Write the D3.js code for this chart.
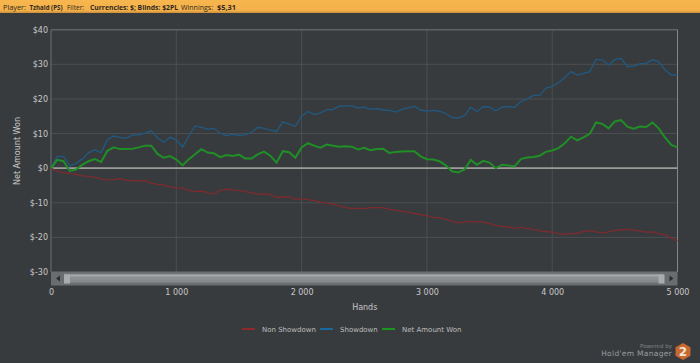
<!DOCTYPE html>
<html>
<head>
<meta charset="utf-8">
<title>Winnings graph</title>
<script src="https://d3js.org/d3.v7.min.js"></script>
<style>
    html, body { margin: 0; padding: 0; background: #383b3e; overflow: hidden; }
    svg { display: block; }
</style>
</head>
<body>
<script>
var handsStep = 50;

var nonShowdown = [0, -0.9, -1.3, -1.5, -1.8, -2.2, -2.4, -2.6, -3.2, -3.4, -3.3, -3.0, -3.5, -3.6, -3.7, -3.6, -4.3,
    -4.7, -4.8, -5.4, -5.7, -5.8, -6.4, -6.8, -6.6, -7.1, -7.4, -6.4, -6.1, -6.3, -6.4, -6.8, -7.1, -7.6, -7.4, -7.6,
    -8.4, -8.4, -8.2, -9.0, -8.9, -9.1, -9.4, -9.8, -10.1, -10.4, -10.8, -11.4, -11.6, -11.6, -11.7, -11.4, -11.4,
    -11.4, -11.9, -12.1, -12.5, -12.7, -13.1, -13.4, -13.7, -14.2, -14.3, -14.8, -15.3, -15.8, -15.6, -15.4, -15.5,
    -15.6, -16.0, -16.5, -16.8, -17.0, -17.4, -17.1, -17.5, -17.7, -18.1, -18.3, -18.5, -18.9, -19.1, -18.9, -18.8,
    -18.3, -18.1, -18.4, -18.7, -18.4, -18.0, -17.8, -17.7, -17.9, -18.2, -18.5, -18.4, -18.9, -19.2, -20.3, -21.0];

var showdown = [0.2, 3.4, 3.4, 0.7, 1.4, 2.6, 4.5, 5.3, 4.5, 8.2, 9.3, 8.9, 8.6, 9.6, 9.6, 10.1, 10.8, 8.7, 7.5, 8.9,
    8.2, 6.1, 9.3, 12.2, 11.8, 11.3, 11.5, 10.1, 9.4, 9.8, 9.5, 9.6, 10.3, 11.8, 11.5, 11.0, 10.6, 13.4, 12.7, 12.1,
    15.0, 16.4, 15.5, 16.0, 16.9, 16.9, 17.9, 18.0, 18.0, 17.4, 17.6, 17.0, 17.2, 16.8, 16.7, 16.2, 17.0, 17.4, 17.9,
    16.8, 16.5, 16.7, 16.5, 15.8, 14.7, 14.5, 15.2, 17.6, 16.3, 17.8, 17.6, 16.6, 17.6, 17.8, 17.6, 19.2, 20.0, 21.0,
    21.0, 23.1, 23.6, 24.7, 26.2, 27.9, 26.9, 27.4, 27.9, 31.4, 31.3, 29.8, 31.4, 31.7, 29.3, 29.5, 30.1, 30.3, 31.3,
    30.8, 28.4, 26.9, 27.0];

var netWon = [0, 2.4, 2.0, -0.8, -0.4, 1.0, 2.0, 2.6, 1.8, 5.0, 6.0, 5.5, 5.5, 5.6, 6.0, 6.5, 6.5, 4.1, 3.0, 3.5, 2.5,
    0.8, 2.6, 4.0, 5.5, 4.5, 4.3, 3.2, 3.8, 3.5, 3.9, 2.8, 2.8, 4.0, 4.8, 3.6, 1.6, 4.9, 4.6, 3.0, 6.0, 7.2, 6.5, 5.9,
    6.8, 6.5, 6.2, 6.3, 6.2, 5.4, 5.9, 5.2, 5.5, 5.6, 4.4, 4.7, 4.8, 4.9, 4.9, 3.4, 2.6, 2.5, 2.0, 0.8, -0.9, -1.25,
    -0.4, 2.4, 1.0, 2.1, 1.6, 0, 1.0, 0.8, 0.5, 2.6, 3.1, 3.2, 3.6, 4.7, 5.1, 5.8, 7.2, 9.1, 8.0, 8.9, 9.9, 13.2, 12.8,
    11.5, 13.5, 13.9, 12.0, 11.4, 12.0, 11.9, 13.2, 11.5, 8.9, 6.7, 6.0];

var seriesNames = ["Non Showdown", "Showdown", "Net Amount Won"];
var lineColors = ["#7c2b2f", "#205a82", "#1f8f26"];
var legendColors = ["#8e2a2c", "#1b689c", "#1a951f"];
var xTicks = [0, 1000, 2000, 3000, 4000, 5000];
var yTicks = [-30, -20, -10, 0, 10, 20, 30, 40];
var headerLabels = ["Player:", "Tzhaid (PS)", "Filter:", "Currencies: $; Blinds: $2PL", "Winnings:", "$5,31"];

function init() {

    var w = 700;
    var h = 363;
    var left = 51;
    var right = 677.5;
    var top = 29.7;
    var bottom = 272;

    var xScale = d3.scaleLinear().domain([0, 5000]).range([left, right]);
    var yScale = d3.scaleLinear().domain([-30, 40]).range([bottom, top]);

    var svg = d3.select("body")
        .append("svg")
        .attr("width", w)
        .attr("height", h)
        .attr("font-family", "'DejaVu Sans', sans-serif");

    var defs = svg.append("defs");
    gradient(defs, "barFill", [["0%", "#f7b64f"], ["80%", "#f5b04a"], ["100%", "#c98f3c"]]);
    gradient(defs, "trackFill", [["0%", "#787b7d"], ["20%", "#a8aaab"], ["35%", "#8f9294"], ["85%", "#85888a"], ["100%", "#6a6d6f"]]);

    svg.append("rect")
        .attr("width", w)
        .attr("height", h)
        .attr("fill", "#383b3e");

    header(svg, w);
    grid(svg, xScale, yScale, left, right, top, bottom);

    // Lines, red first so the green one ends up on top
    var allSeries = [nonShowdown, showdown, netWon];
    var line = d3.line()
        .x(function(d, i) { return xScale(i * handsStep); })
        .y(function(d) { return yScale(d); });

    svg.selectAll("path.series")
        .data(allSeries)
        .enter()
        .append("path")
        .attr("class", "series")
        .attr("d", line)
        .attr("fill", "none")
        .attr("stroke", function(d, i) { return lineColors[i]; })
        .attr("stroke-width", function(d, i) { return i == 2 ? 2 : 1.3; });

    scrollbar(svg, left, right, bottom);
    axes(svg, xScale, yScale, bottom, left);
    titles(svg, left, right);
    legend(svg);
    logo(svg);
}

function gradient(defs, id, stops) {
    var g = defs.append("linearGradient")
        .attr("id", id)
        .attr("x1", 0).attr("y1", 0)
        .attr("x2", 0).attr("y2", 1);
    stops.forEach(function(s) {
        g.append("stop").attr("offset", s[0]).attr("stop-color", s[1]);
    });
}

function header(svg, w) {
    // The reference uses a narrower font, so each label is squeezed to its width
    var labelX = [3, 29.5, 67, 90, 181, 217];
    var labelW = [23, 33, 17, 88, 32, 19];

    svg.append("rect")
        .attr("width", w)
        .attr("height", 13)
        .attr("fill", "url(#barFill)");

    svg.selectAll("text.head")
        .data(headerLabels)
        .enter()
        .append("text")
        .attr("class", "head")
        .attr("x", function(d, i) { return labelX[i]; })
        .attr("y", 9.5)
        .attr("textLength", function(d, i) { return labelW[i]; })
        .attr("lengthAdjust", "spacingAndGlyphs")
        .attr("font-size", "7.5px")
        .attr("font-weight", function(d, i) { return i % 2 ? "bold" : "normal"; })
        .attr("font-family", "'Open Sans', sans-serif")
        .attr("fill", "#2e2a22")
        .text(function(d) { return d; });
}

function grid(svg, xScale, yScale, left, right, top, bottom) {
    svg.selectAll("line.gridx")
        .data(xTicks.slice(1, 5))
        .enter()
        .append("line")
        .attr("class", "gridx")
        .attr("x1", function(d) { return xScale(d); })
        .attr("x2", function(d) { return xScale(d); })
        .attr("y1", top)
        .attr("y2", bottom)
        .attr("stroke", "#4c4f51");

    svg.selectAll("line.gridy")
        .data(yTicks.slice(1, 7).filter(function(d) { return d != 0; }))
        .enter()
        .append("line")
        .attr("class", "gridy")
        .attr("x1", left)
        .attr("x2", right)
        .attr("y1", function(d) { return yScale(d); })
        .attr("y2", function(d) { return yScale(d); })
        .attr("stroke", "#4c4f51");

    // Frame
    svg.append("line")
        .attr("x1", left).attr("x2", right)
        .attr("y1", top).attr("y2", top)
        .attr("stroke", "#5f6264").attr("stroke-width", 1.5);
    svg.append("line")
        .attr("x1", left).attr("x2", left)
        .attr("y1", top).attr("y2", bottom)
        .attr("stroke", "#64676a").attr("stroke-width", 1.2);
    svg.append("line")
        .attr("x1", right).attr("x2", right)
        .attr("y1", top).attr("y2", bottom)
        .attr("stroke", "#85888a").attr("stroke-width", 1);

    // Zero line
    svg.append("line")
        .attr("x1", left).attr("x2", right)
        .attr("y1", yScale(0)).attr("y2", yScale(0))
        .attr("stroke", "#9c9c9a").attr("stroke-width", 1.8);
}

function scrollbar(svg, left, right, bottom) {
    var g = svg.append("g");
    var sTop = bottom - 0.5;
    g.append("rect")
        .attr("x", left).attr("y", sTop)
        .attr("width", right - left).attr("height", 14)
        .attr("fill", "#6a6d6f");
    g.append("rect")
        .attr("x", left + 13).attr("y", sTop + 2)
        .attr("width", right - left - 27).attr("height", 10)
        .attr("fill", "url(#trackFill)");
    g.append("rect")
        .attr("x", left + 13).attr("y", sTop + 3)
        .attr("width", 6).attr("height", 9)
        .attr("fill", "#a9abac");
    g.append("rect")
        .attr("x", right - 19).attr("y", sTop + 3)
        .attr("width", 6).attr("height", 9)
        .attr("fill", "#a9abac");
    g.append("path")
        .attr("d", "M" + (left + 5) + "," + (sTop + 7) + "l4,-3v6z")
        .attr("fill", "#2c2e30");
    g.append("path")
        .attr("d", "M" + (right - 4) + "," + (sTop + 7) + "l-4,-3v6z")
        .attr("fill", "#2c2e30");
}

function axes(svg, xScale, yScale, bottom, left) {
    var spaced = d3.formatLocale({ decimal: ".", thousands: " ", grouping: [3], currency: ["$", ""] }).format(",");

    var xAxis = d3.axisBottom(xScale)
        .tickValues(xTicks)
        .tickSize(0)
        .tickPadding(0)
        .tickFormat(spaced);

    var yAxis = d3.axisLeft(yScale)
        .tickValues(yTicks)
        .tickSize(0)
        .tickPadding(3)
        .tickFormat(function(d) { return "$" + d; });

    var xg = svg.append("g")
        .attr("transform", "translate(0," + (bottom + 17) + ")")
        .call(xAxis);

    var yg = svg.append("g")
        .attr("transform", "translate(" + left + ",0)")
        .call(yAxis);

    [xg, yg].forEach(function(g) {
        g.select(".domain").remove();
        g.selectAll("text")
            .attr("fill", "#c8c8c8")
            .attr("font-size", "8px")
            .attr("font-family", "'DejaVu Sans', sans-serif");
    });
}

function titles(svg, left, right) {
    svg.append("text")
        .attr("x", (left + right) / 2 + 0.5)
        .attr("y", 310)
        .attr("text-anchor", "middle")
        .attr("font-size", "8px")
        .attr("fill", "#c8c8c8")
        .text("Hands");

    svg.append("text")
        .attr("transform", "translate(20,151) rotate(-90)")
        .attr("text-anchor", "middle")
        .attr("font-size", "8px")
        .attr("fill", "#c8c8c8")
        .text("Net Amount Won");
}

function legend(svg) {
    var swatchX = [242, 320, 382];

    var item = svg.selectAll("g.legend")
        .data(seriesNames)
        .enter()
        .append("g")
        .attr("class", "legend")
        .attr("transform", function(d, i) { return "translate(" + swatchX[i] + ",329)"; });

    item.append("line")
        .attr("x1", 0)
        .attr("x2", 13)
        .attr("stroke", function(d, i) { return legendColors[i]; })
        .attr("stroke-width", 2);

    item.append("text")
        .attr("x", 20)
        .attr("y", 3)
        .attr("font-size", "7px")
        .attr("fill", "#bdbdbd")
        .text(function(d) { return d; });
}

function logo(svg) {
    svg.append("text")
        .attr("x", 672)
        .attr("y", 347.5)
        .attr("text-anchor", "end")
        .attr("font-size", "5.5px")
        .attr("fill", "#7f8284")
        .text("Powered by");

    svg.append("text")
        .attr("x", 672)
        .attr("y", 355.5)
        .attr("text-anchor", "end")
        .attr("font-size", "7.5px")
        .attr("letter-spacing", "0.3px")
        .attr("fill", "#9a9c9d")
        .text("Hold'em Manager");

    var hex = d3.range(6).map(function(i) {
        var a = Math.PI / 3 * i + Math.PI / 6;
        return [683 + 8.6 * Math.cos(a), 351.5 + 8.6 * Math.sin(a)];
    });

    svg.append("path")
        .attr("d", d3.line()(hex) + "Z")
        .attr("fill", "#c9692f");

    svg.append("text")
        .attr("x", 683)
        .attr("y", 356)
        .attr("text-anchor", "middle")
        .attr("font-size", "12px")
        .attr("font-weight", "bold")
        .attr("fill", "#f0e6da")
        .text("2");
}

window.onload = init;
</script>
</body>
</html>
